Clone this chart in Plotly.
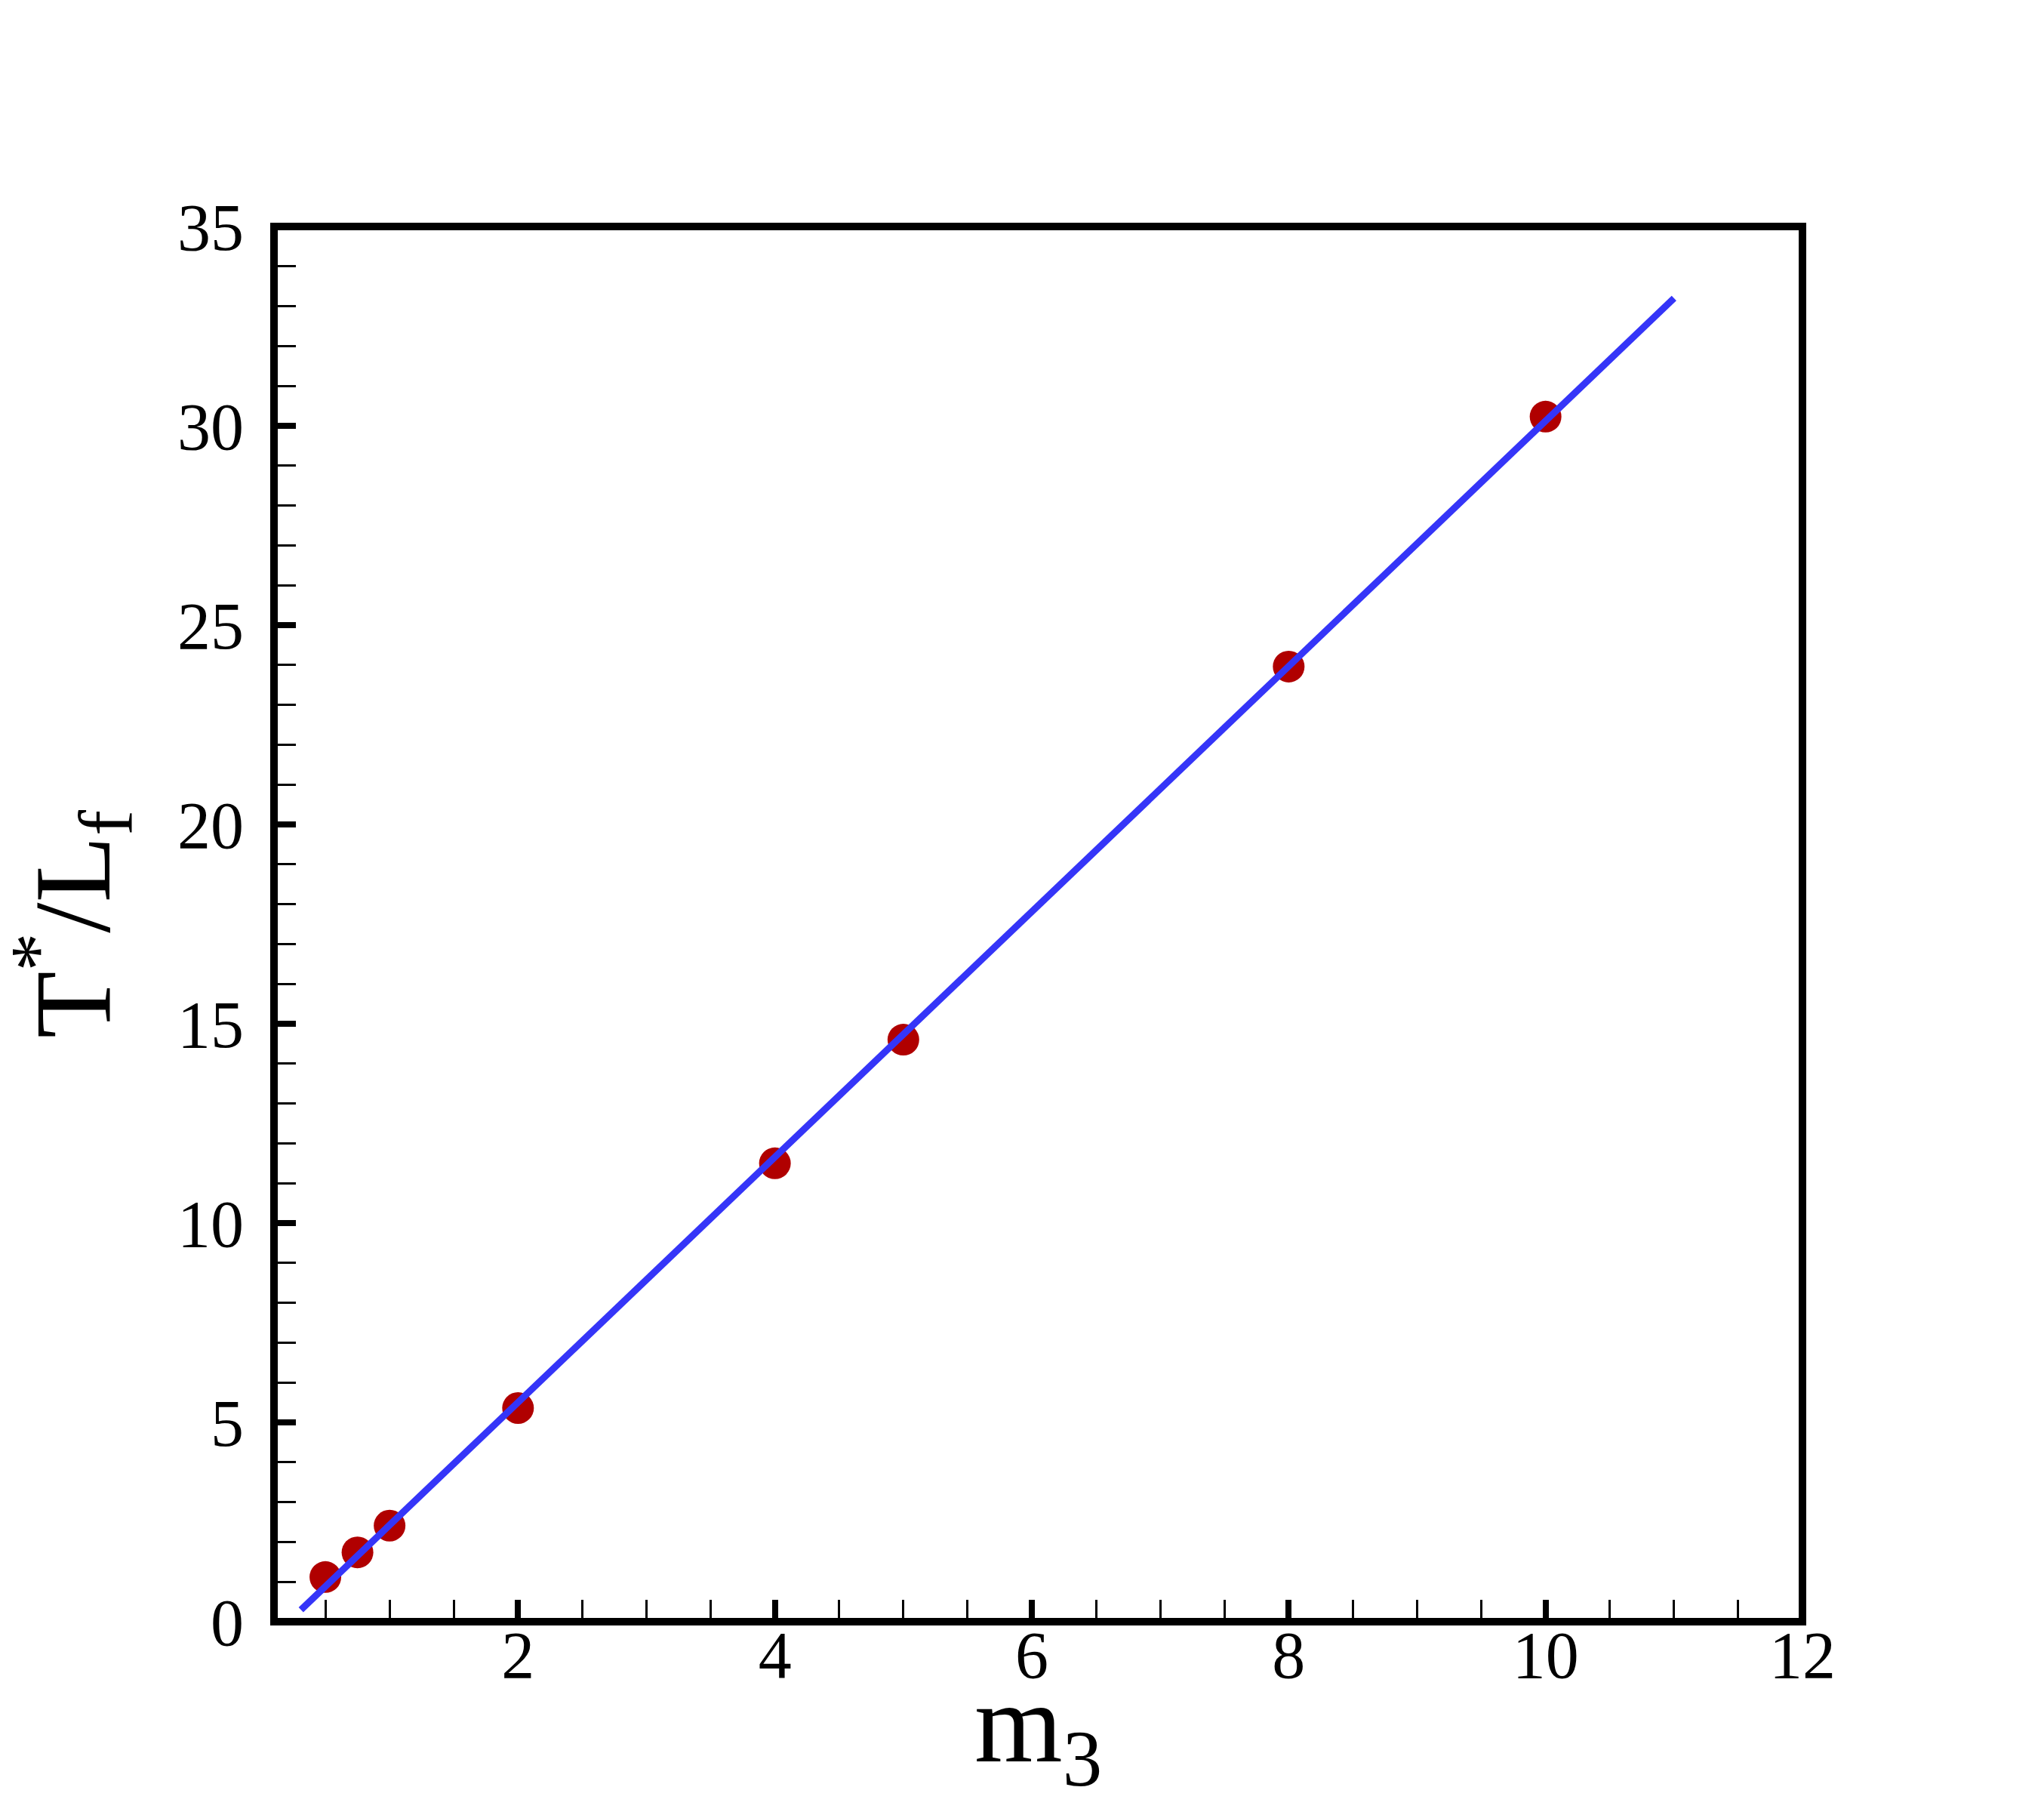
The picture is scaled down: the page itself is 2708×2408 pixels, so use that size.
import plotly.graph_objects as go

# Data
m3_points = [0.5, 0.75, 1.0, 2.0, 4.0, 5.0, 8.0, 10.0]
t_over_l_points = [1.12, 1.74, 2.41, 5.36, 11.5, 14.6, 23.96, 30.23]

fit_x = [0.31, 11.0]
fit_y = [0.30, 33.2]

x_tickvals = [2, 4, 6, 8, 10, 12]
y_tickvals = [0, 5, 10, 15, 20, 25, 30, 35]

x_title = "m<sub>3</sub>"
y_title = "T<sup>*</sup>/L<sub>f</sub>"

FONT = "Liberation Serif, Times New Roman, serif"

fig = go.Figure()
fig.add_trace(go.Scatter(
    x=m3_points, y=t_over_l_points, mode="markers",
    marker=dict(size=42, color="#B00000", line=dict(width=0)),
    showlegend=False, cliponaxis=False,
))
fig.add_trace(go.Scatter(
    x=fit_x, y=fit_y, mode="lines",
    line=dict(color="#3535F8", width=9),
    showlegend=False,
))

axis_common = dict(
    showline=False, showgrid=False, zeroline=False,
    ticks="inside", ticklen=29, tickwidth=8, tickcolor="black",
    tickfont=dict(family=FONT, size=88, color="black"),
)

fig.update_xaxes(
    range=[0.1, 12], tickvals=x_tickvals,
    minor=dict(dtick=0.5, ticks="inside", ticklen=29, tickwidth=3, tickcolor="black", showgrid=False),
    ticklabelstandoff=-15,
    **axis_common,
)
fig.update_yaxes(
    range=[0, 35], tickvals=y_tickvals,
    minor=dict(dtick=1, ticks="inside", ticklen=29, tickwidth=3, tickcolor="black", showgrid=False),
    ticklabelstandoff=39,
    **axis_common,
)

fig.add_shape(
    type="rect", xref="paper", yref="paper", x0=0, x1=1, y0=0, y1=1,
    line=dict(color="black", width=10), fillcolor="rgba(0,0,0,0)", layer="above",
)

# Axis titles
fig.add_annotation(
    text=x_title, xref="paper", yref="paper", x=0.5, y=0,
    xanchor="center", yanchor="middle", yshift=-145, showarrow=False,
    font=dict(family=FONT, size=150, color="black"),
)
fig.add_annotation(
    text=y_title, xref="paper", yref="paper", x=0, y=0.5,
    xanchor="center", yanchor="middle", xshift=-268, textangle=-90, showarrow=False,
    font=dict(family=FONT, size=145, color="black"),
)

fig.update_layout(
    width=2708, height=2408,
    margin=dict(l=355, r=328, t=292, b=268, autoexpand=False),
    paper_bgcolor="white", plot_bgcolor="white",
)

fig.write_html("out.html")
